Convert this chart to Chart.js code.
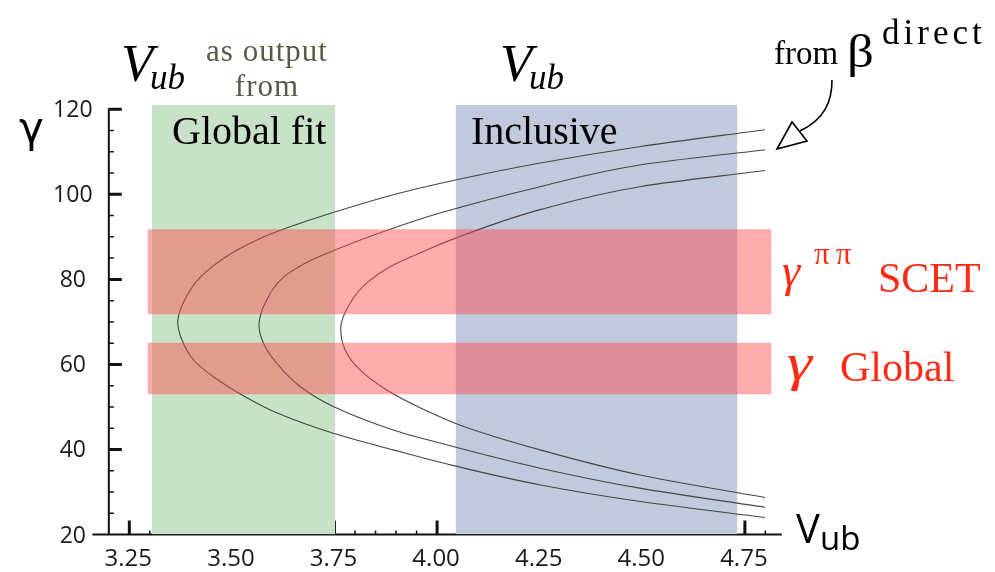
<!DOCTYPE html>
<html>
<head>
<meta charset="utf-8">
<script src="https://cdn.jsdelivr.net/npm/chart.js@4.4.1/dist/chart.umd.min.js"></script>
<style>
  body { margin: 0; background: #fff; }
  #wrap { position: relative; width: 995px; height: 572px; overflow: hidden; }
  #chart { position: absolute; left: 0; top: 0; }
  .t { position: absolute; white-space: nowrap; line-height: 1; }
  .serif { font-family: "Liberation Serif", serif; }
  .it { font-style: italic; }
  .sans { font-family: "Open Sans", sans-serif; }
  .red { color: #ff2b14; }
  .olive { color: #5a5a44; }
  svg { position: absolute; left: 0; top: 0; }
</style>
</head>
<body>
<div id="wrap">
  <canvas id="chart" width="995" height="572"></canvas>

  <!-- headings above the bands -->
  <div class="t serif it" style="left:121px;top:37px;font-size:53px">V</div>
  <div class="t serif it" style="left:150px;top:60px;font-size:35px">ub</div>
  <div class="t serif olive" style="left:267px;top:35px;font-size:31px;letter-spacing:1px;transform:translateX(-50%)">as output</div>
  <div class="t serif olive" style="left:267px;top:70px;font-size:31px;letter-spacing:1px;transform:translateX(-50%)">from</div>
  <div class="t serif it" style="left:500px;top:37px;font-size:53px">V</div>
  <div class="t serif it" style="left:529px;top:60px;font-size:35px">ub</div>

  <div class="t serif" style="left:172px;top:111px;font-size:40px">Global fit</div>
  <div class="t serif" style="left:471px;top:111px;font-size:40px">Inclusive</div>

  <div class="t serif" style="left:774px;top:37px;font-size:33px">from</div>
  <div class="t serif" style="left:847px;top:29px;font-size:46px;transform:scaleX(1.15);transform-origin:left">β</div>
  <div class="t serif" style="left:882px;top:15px;font-size:35px;letter-spacing:4px">direct</div>

  <!-- band labels -->
  <div class="t serif it red" style="left:782px;top:248px;font-size:46px">γ</div>
  <div class="t serif red" style="left:814px;top:238px;font-size:31px;letter-spacing:6px">ππ</div>
  <div class="t serif red" style="left:878px;top:257px;font-size:42px">SCET</div>
  <div class="t serif it red" style="left:787px;top:336px;font-size:53px;transform:scaleX(1.2);transform-origin:left">γ</div>
  <div class="t serif red" style="left:840px;top:346px;font-size:42px">Global</div>

  <!-- axis titles -->
  <div class="t" style="left:19px;top:107px;font-size:42px;font-family:'DejaVu Sans',sans-serif">γ</div>
  <div class="t sans" style="left:796px;top:508px;font-size:40px">V</div>
  <div class="t sans" style="left:820px;top:521px;font-size:33px">ub</div>

  <svg width="995" height="572">
    <path d="M832,80 C832,101 825,119 800,131" fill="none" stroke="#000" stroke-width="1.6"/>
    <path d="M777,149 L792,122 L807,141 Z" fill="#fff" stroke="#000" stroke-width="1.6" stroke-linejoin="miter"/>
  </svg>
</div>

<script>
// axis ticks
const xTicks = [3.25, 3.50, 3.75, 4.00, 4.25, 4.50, 4.75];
const xTickLabels = ['3.25', '3.50', '3.75', '4.00', '4.25', '4.50', '4.75'];
const yTicks = [20, 40, 60, 80, 100, 120];
const yTickLabels = ['20', '40', '60', '80', '100', '120'];

// V_ub ranges (vertical bands)
const globalFitVub = [3.305, 3.752];
const inclusiveVub = [4.045, 4.732];
const vubBandTop = 121;

// gamma ranges (horizontal bands)
const redBandVub = [3.294, 4.815];
const gammaScet = [71.8, 91.8];
const gammaGlobal = [53.0, 65.1];

// gamma vs V_ub from beta(direct): three curves
const curveLowBetaVub   = [4.799, 4.492, 4.248, 3.990, 3.893, 3.733, 3.640, 3.580, 3.500, 3.425, 3.385, 3.368, 3.378, 3.406, 3.455, 3.532, 3.612, 3.747, 3.893, 4.015, 4.255, 4.500, 4.799];
const curveLowBetaGamma = [115.2, 111.2, 107.3, 102.2, 99.9, 95.3, 92.3, 90.1, 86.2, 80.7, 75.2, 70.0, 65.8, 61.1, 57.1, 52.4, 48.5, 43.8, 39.9, 36.8, 31.6, 27.7, 24.0];

const curveMidBetaVub   = [4.799, 4.494, 4.251, 4.007, 3.880, 3.738, 3.695, 3.628, 3.585, 3.566, 3.577, 3.609, 3.666, 3.747, 3.893, 4.007, 4.251, 4.494, 4.799];
const curveMidBetaGamma = [110.5, 106.9, 101.8, 95.6, 91.6, 86.4, 84.6, 80.7, 75.2, 69.3, 65.0, 60.3, 54.8, 50.1, 44.6, 41.5, 35.6, 30.9, 26.4];

const curveHighBetaVub   = [4.799, 4.494, 4.251, 4.045, 3.965, 3.893, 3.828, 3.788, 3.765, 3.776, 3.812, 3.877, 3.970, 4.065, 4.251, 4.494, 4.799];
const curveHighBetaGamma = [105.6, 101.8, 96.4, 89.7, 86.5, 83.4, 79.1, 74.4, 68.5, 63.4, 58.7, 54.0, 49.3, 45.4, 39.9, 34.0, 28.7];

const xMin = 3.16, xMax = 4.84;
const yMin = 20, yMax = 122;
const yAxisAt = 3.2;

const toPoints = (xs, ys) => xs.map((v, i) => ({ x: v, y: ys[i] }));

function band(xs, top, bottom, color, order) {
    return {
        data: [{ x: xs[0], y: top }, { x: xs[1], y: top }],
        fill: { value: bottom },
        backgroundColor: color,
        borderWidth: 0,
        pointRadius: 0,
        tension: 0,
        order: order
    };
}

// gamma is monotonic along each curve, so interpolate along the y axis
function curve(xs, ys) {
    return {
        data: toPoints(xs, ys),
        indexAxis: 'y',
        cubicInterpolationMode: 'monotone',
        borderColor: '#454545',
        borderWidth: 1.1,
        pointRadius: 0,
        fill: false,
        order: 2
    };
}

// axes drawn by hand so the y axis can sit at V_ub = 3.2 with inward ticks
const axisPlugin = {
    id: 'axisPlugin',
    beforeDatasetsDraw(chart) {
        const { ctx, scales: { x, y } } = chart;
        const ax = x.getPixelForValue(yAxisAt);
        const ay = y.getPixelForValue(20);
        ctx.save();
        ctx.strokeStyle = '#111';
        ctx.lineWidth = 2;
        ctx.beginPath();
        ctx.moveTo(x.getPixelForValue(xMin), ay);
        ctx.lineTo(x.getPixelForValue(xMax), ay);
        ctx.moveTo(ax, ay);
        ctx.lineTo(ax, y.getPixelForValue(120) - 1);
        ctx.stroke();

        // minor ticks
        ctx.lineWidth = 1.5;
        ctx.beginPath();
        for (let k = 66; k <= 96; k++) {
            if (k % 5 === 0) continue;
            const px = x.getPixelForValue(k * 0.05);
            ctx.moveTo(px, ay);
            ctx.lineTo(px, ay - 4);
        }
        for (let v = 25; v < 120; v += 5) {
            if (v % 20 === 0) continue;
            const py = y.getPixelForValue(v);
            ctx.moveTo(ax, py);
            ctx.lineTo(ax + 5, py);
        }
        ctx.stroke();

        // major ticks
        ctx.lineWidth = 3;
        ctx.beginPath();
        xTicks.forEach(v => {
            const px = x.getPixelForValue(v);
            ctx.moveTo(px, ay);
            ctx.lineTo(px, ay - 14);
        });
        yTicks.forEach(v => {
            if (v === 20) return;
            const py = y.getPixelForValue(v);
            ctx.moveTo(ax, py);
            ctx.lineTo(ax + 13, py);
        });
        ctx.stroke();

        // tick labels
        ctx.fillStyle = '#1a1a1a';
        ctx.font = '24px "Open Sans"';
        ctx.textAlign = 'center';
        ctx.textBaseline = 'alphabetic';
        xTicks.forEach((v, i) => {
            ctx.fillText(xTickLabels[i], x.getPixelForValue(v) - 1, ay + 31);
        });
        ctx.font = '23px "Open Sans"';
        yTicks.forEach((v, i) => {
            ctx.fillText(yTickLabels[i], ax - 36, y.getPixelForValue(v) + 8);
        });
        ctx.restore();
    }
};

const redFill = 'rgba(255, 70, 70, 0.45)';

new Chart(document.getElementById('chart').getContext('2d'), {
    type: 'line',
    data: {
        datasets: [
            band(globalFitVub, vubBandTop, 20, '#c8e2c8', 3),
            band(inclusiveVub, vubBandTop, 20, '#c1c9dc', 3),
            curve(curveLowBetaVub, curveLowBetaGamma),
            curve(curveMidBetaVub, curveMidBetaGamma),
            curve(curveHighBetaVub, curveHighBetaGamma),
            band(redBandVub, gammaScet[1], gammaScet[0], redFill, 1),
            band(redBandVub, gammaGlobal[1], gammaGlobal[0], redFill, 1)
        ]
    },
    options: {
        responsive: false,
        animation: false,
        devicePixelRatio: 1,
        layout: { padding: { left: 92.4, right: 213.2, top: 100.8, bottom: 37.5 } },
        plugins: { legend: { display: false }, tooltip: { enabled: false } },
        scales: {
            x: { type: 'linear', min: xMin, max: xMax, display: false },
            y: { type: 'linear', min: yMin, max: yMax, display: false }
        }
    },
    plugins: [axisPlugin]
});
</script>
</body>
</html>
